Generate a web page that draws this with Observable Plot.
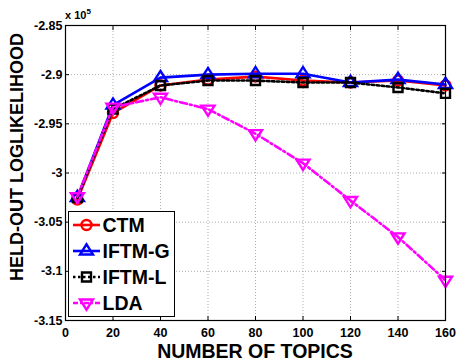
<!DOCTYPE html>
<html><head><meta charset="utf-8">
<script src="https://cdn.jsdelivr.net/npm/d3@7"></script>
<script src="https://cdn.jsdelivr.net/npm/@observablehq/plot@0.6"></script>
<style>
body{margin:0;background:#fff;font-family:"Liberation Sans",Arial,sans-serif;}
#c{position:relative;width:458px;height:361px;}
</style></head><body><div id="c"></div>
<script>
const topics = [5, 20, 40, 60, 80, 100, 120, 140, 160];
const ctm   = [-3.027, -2.939, -2.911, -2.905, -2.902, -2.906, -2.908, -2.906, -2.911];
const iftmG = [-3.025, -2.931, -2.903, -2.900, -2.899, -2.899, -2.908, -2.905, -2.910];
const iftmL = [-3.025, -2.935, -2.911, -2.906, -2.906, -2.908, -2.908, -2.913, -2.919];
const lda   = [-3.024, -2.933, -2.923, -2.935, -2.960, -2.990, -3.028, -3.065, -3.109];
const xTicks = [0, 20, 40, 60, 80, 100, 120, 140, 160];
const yTicks = [-3.15, -3.1, -3.05, -3, -2.95, -2.9, -2.85];
const seriesNames = ["CTM", "IFTM-G", "IFTM-L", "LDA"];
const seriesVals = [ctm, iftmG, iftmL, lda];
const colors = ["#ff0000", "#0000ff", "#000000", "#ff00ff"];
const dashes = [null, null, "2.5,2.5", "7,3,2,3"];

const triDown = {draw(ctx, size){const r=Math.sqrt(size/Math.PI); ctx.moveTo(-1.3*r, -0.7*r); ctx.lineTo(1.3*r, -0.7*r); ctx.lineTo(0, 1.35*r); ctx.closePath();}};
const triUp = {draw(ctx, size){const r=Math.sqrt(size/Math.PI); ctx.moveTo(-1.3*r, 0.7*r); ctx.lineTo(1.3*r, 0.7*r); ctx.lineTo(0, -1.35*r); ctx.closePath();}};
const squareS = {draw(ctx, size){const r=Math.sqrt(size/Math.PI)*0.9; ctx.rect(-r, -r, 2*r, 2*r);}};
const circleS = {draw(ctx, size){const r=Math.sqrt(size/Math.PI); ctx.moveTo(r,0); ctx.arc(0,0,r,0,2*Math.PI);}};
const symbols = [circleS, triUp, squareS, triDown];

const data = [];
seriesNames.forEach((s, i) => topics.forEach((t, j) => data.push({series: s, x: t, y: seriesVals[i][j]})));

const fmt = d => String(+d.toFixed(2));
const marks = [
  Plot.gridX(xTicks, {stroke: "#999", strokeOpacity: 0.8, strokeDasharray: "1,2"}),
  Plot.gridY(yTicks, {stroke: "#999", strokeOpacity: 0.8, strokeDasharray: "1,2"}),
  Plot.axisX(xTicks, {anchor: "bottom", tickSize: -4, tickPadding: 12, tickFormat: fmt, label: null, fontSize: 12.5, fontWeight: "bold", fill: "#000"}),
  Plot.axisX(xTicks, {anchor: "top", tickSize: -4, tickFormat: () => "", label: null}),
  Plot.axisY(yTicks, {anchor: "left", tickSize: -4, tickPadding: 7, tickFormat: fmt, label: null, fontSize: 12.5, fontWeight: "bold", fill: "#000"}),
  Plot.axisY(yTicks, {anchor: "right", tickSize: -4, tickFormat: () => "", label: null}),
];
[0, 1, 2, 3].forEach(i => {
  const d = data.filter(r => r.series === seriesNames[i]);
  marks.push(Plot.line(d, {x: "x", y: "y", stroke: colors[i], strokeWidth: 2.6, strokeDasharray: dashes[i]}));
  marks.push(Plot.dot(d, {x: "x", y: "y", stroke: colors[i], strokeWidth: 2.4, symbol: () => symbols[i], r: 5, fill: "none"}));
});
marks.push(Plot.frame({stroke: "#000", strokeWidth: 1.2}));

const chart = Plot.plot({
  width: 458, height: 361,
  marginLeft: 65, marginRight: 13, marginTop: 25, marginBottom: 41,
  x: {domain: [0, 160]},
  y: {domain: [-3.15, -2.85]},
  style: {fontFamily: "Liberation Sans, Arial, sans-serif", background: "#fff", overflow: "visible"},
  marks
});
document.getElementById("c").appendChild(chart);

const svg = d3.select(chart);
svg.append("text").attr("x", 255).attr("y", 358).attr("text-anchor", "middle")
  .attr("font-size", 19.5).attr("font-weight", "bold").attr("fill", "#000").text("NUMBER OF TOPICS");
svg.append("text").attr("transform", "translate(23,157) rotate(-90)").attr("text-anchor", "middle")
  .attr("font-size", 18).attr("font-weight", "bold").attr("fill", "#000").text("HELD-OUT LOGLIKELIHOOD");
const ex = svg.append("text").attr("x", 65).attr("y", 19).attr("text-anchor", "start").attr("font-size", 11).attr("font-weight", "bold").attr("fill", "#000");
ex.append("tspan").text("x 10");
ex.append("tspan").attr("dy", -5).attr("font-size", 8).text("5");

const lg = svg.append("g").attr("text-anchor", "start");
lg.append("rect").attr("x", 68.5).attr("y", 211.5).attr("width", 106).attr("height", 105)
  .attr("fill", "#fff").attr("stroke", "#000").attr("stroke-width", 1);
seriesNames.forEach((s, i) => {
  const yy = 225 + i * 26;
  lg.append("line").attr("x1", 73).attr("x2", 100).attr("y1", yy).attr("y2", yy)
    .attr("stroke", colors[i]).attr("stroke-width", 2.6).attr("stroke-dasharray", dashes[i] ? (i === 3 ? "5,2,2,2" : "2.5,2.5") : null);
  lg.append("path").attr("d", d3.symbol(symbols[i], Math.PI * 25)()).attr("transform", `translate(86.5,${yy})`).attr("fill", "none")
    .attr("stroke", colors[i]).attr("stroke-width", 2.4);
  lg.append("text").attr("x", 102.5).attr("y", yy + 7).attr("text-anchor", "start").attr("font-size", 19.5).attr("font-weight", "bold").attr("fill", "#000").text(s);
});
</script></body></html>
